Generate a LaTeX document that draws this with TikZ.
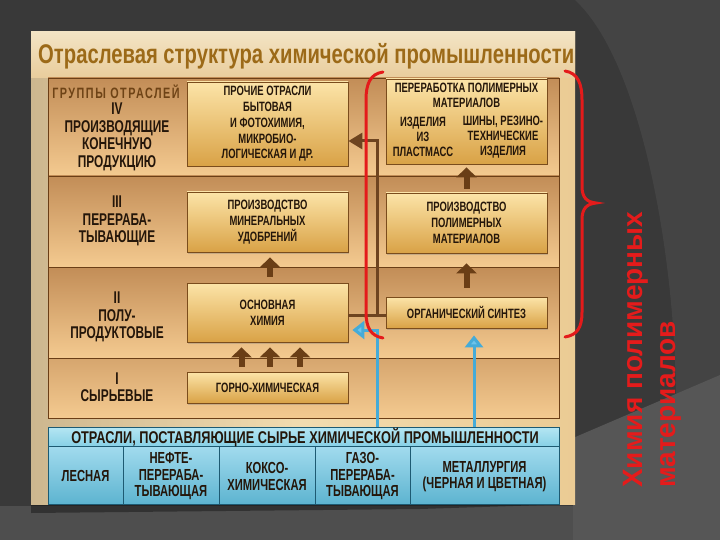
\documentclass[tikz,border=0pt]{standalone}
\usepackage{fontspec}
\setmainfont{Liberation Sans}
\newfontfamily\cond[FakeStretch=0.70]{Liberation Sans}
\newfontfamily\condw[FakeStretch=0.75]{Liberation Sans}
\newfontfamily\hdrfont[FakeStretch=0.72,LetterSpace=10]{Liberation Sans}
\newfontfamily\ttlfont[FakeStretch=0.75]{Liberation Sans}
\usetikzlibrary{arrows.meta,shadows}
\definecolor{bgdark}{HTML}{393939}
\definecolor{bgmid}{HTML}{444444}
\definecolor{bglight}{HTML}{565656}
\definecolor{bgband}{HTML}{4E4E4E}
\definecolor{panL}{HTML}{CDB78F}
\definecolor{panM}{HTML}{F2DCB0}
\definecolor{panR}{HTML}{EBCB94}
\definecolor{ttltop}{HTML}{F3E4C4}
\definecolor{ttlbot}{HTML}{E9CD9C}
\definecolor{ttlcol}{HTML}{9C6A18}
\definecolor{rowtop}{HTML}{C28D57}
\definecolor{rowbot}{HTML}{F4CA90}
\definecolor{frame}{HTML}{6B3E16}
\definecolor{boxtop}{HTML}{FCE4A8}
\definecolor{boxbot}{HTML}{D9A246}
\definecolor{boxedge}{HTML}{7A4C1C}
\definecolor{txtdark}{HTML}{24160A}
\definecolor{hdrcol}{HTML}{6E4316}
\definecolor{barcol}{HTML}{6A3E16}
\definecolor{brcol}{HTML}{6E4420}
\definecolor{bline}{HTML}{45ABD8}
\definecolor{bhead}{HTML}{6CC3EA}
\definecolor{bhtop}{HTML}{B5E6F3}
\definecolor{bhbot}{HTML}{88D1E6}
\definecolor{bodytop}{HTML}{A2DBEE}
\definecolor{bodybot}{HTML}{5DB4D0}
\definecolor{bedge}{HTML}{1D5A72}
\definecolor{redc}{HTML}{E41B1B}
\begin{document}
\begin{tikzpicture}[x=1pt,y=-1pt,
  box/.style={draw=boxedge, line width=0.8pt, top color=boxtop, bottom color=boxbot,
    minimum width=161pt, inner sep=0pt, align=center, text=txtdark,
    font=\cond\bfseries\fontsize{13.5}{15.7}\selectfont,
    drop shadow={shadow xshift=1.2pt,shadow yshift=-1.5pt,opacity=0.35}},
  btxt/.style={align=center, text=txtdark, inner sep=0pt,
    font=\cond\bfseries\fontsize{13.5}{15.2}\selectfont},
  lab/.style={align=center, text=txtdark, inner sep=0pt,
    font=\cond\bfseries\fontsize{17}{17.5}\selectfont},
  ctxt/.style={align=center, text=txtdark, inner sep=0pt,
    font=\cond\bfseries\fontsize{16}{16.5}\selectfont},
  barr/.style={line width=6pt, draw=barcol, -{Triangle[length=10pt,width=20pt]}},
  brline/.style={line width=3pt, draw=brcol},
  blueline/.style={line width=3pt, draw=bline, -{Triangle[length=12pt,width=18pt,fill=bhead]}},
  redline/.style={line width=3pt, draw=redc, line cap=round},
  redtxt/.style={text=redc, inner sep=0pt, font=\bfseries\fontsize{28}{30}\selectfont}
]
\useasboundingbox (0,0) rectangle (720,540);
% slide background
\fill[bgdark] (0,0) rectangle (720,540);
\fill[bgmid] (575,0) .. controls (640,60) and (675,250) .. (676,400) -- (720,380) -- (720,0) -- cycle;
\fill[bgband] (0,506) rectangle (720,540);
\fill[bglight] (573,438) -- (720,375) -- (720,540) -- (573,540) -- cycle;
\fill[black,opacity=0.35] (31,504) -- (575,504) -- (420,509) -- (31,513) -- cycle;
% panel
\shade[left color=panL, right color=panR, middle color=panM] (31,32) rectangle (575,504);
\shade[top color=ttltop, bottom color=ttlbot] (31,32) rectangle (575,78);
\node[anchor=base west, inner sep=0pt, text=ttlcol, font=\ttlfont\bfseries\fontsize{27}{30}\selectfont] (title) at (38,64) {Отраслевая структура химической промышленности};
% rows
\shade[top color=rowtop, bottom color=rowbot] (48,78) rectangle (559,176);
\shade[top color=rowtop, bottom color=rowbot] (48,176) rectangle (559,267);
\shade[top color=rowtop, bottom color=rowbot] (48,267) rectangle (559,358);
\shade[top color=rowtop!60!rowbot, bottom color=rowbot] (48,358) rectangle (559,418);
\draw[frame, line width=0.8pt] (48,78) rectangle (559,418);
\draw[frame, line width=0.8pt] (48,176) -- (559,176) (48,267) -- (559,267) (48,358) -- (559,358);
% left labels
\node[inner sep=0pt, text=hdrcol, font=\hdrfont\bfseries\fontsize{15}{16}\selectfont] (grp) at (116,92) {ГРУППЫ ОТРАСЛЕЙ};
\node[lab] (g4) at (117,137) {IV\\ПРОИЗВОДЯЩИЕ\\КОНЕЧНУЮ\\ПРОДУКЦИЮ};
\node[lab] (g3) at (117,221) {III\\ПЕРЕРАБА-\\ТЫВАЮЩИЕ};
\node[lab] (g2) at (117,317) {II\\ПОЛУ-\\ПРОДУКТОВЫЕ};
\node[lab] (g1) at (117,387) {I\\СЫРЬЕВЫЕ};
% boxes, middle column
\node[box, minimum height=84pt] (prochie) at (267.5,124) {ПРОЧИЕ ОТРАСЛИ\\БЫТОВАЯ\\И ФОТОХИМИЯ,\\МИКРОБИО-\\ЛОГИЧЕСКАЯ И ДР.};
\node[box, minimum height=60pt] (udob) at (267.5,222) {ПРОИЗВОДСТВО\\МИНЕРАЛЬНЫХ\\УДОБРЕНИЙ};
\node[box, minimum height=59pt] (osn) at (267.5,312.5) {ОСНОВНАЯ\\ХИМИЯ};
\node[box, minimum height=31pt] (gorno) at (267.5,387.5) {ГОРНО-ХИМИЧЕСКАЯ};
% boxes, right column
\node[box, minimum height=85pt] (perer) at (466.5,121.5) {};
\node[btxt] (perert) at (466.5,95.5) {ПЕРЕРАБОТКА ПОЛИМЕРНЫХ\\МАТЕРИАЛОВ};
\node[btxt] (izd) at (423,137) {ИЗДЕЛИЯ\\ИЗ\\ПЛАСТМАСС};
\node[btxt] (shiny) at (503,137) {ШИНЫ, РЕЗИНО-\\ТЕХНИЧЕСКИЕ\\ИЗДЕЛИЯ};
\node[box, minimum height=60pt] (poly) at (466.5,223) {ПРОИЗВОДСТВО\\ПОЛИМЕРНЫХ\\МАТЕРИАЛОВ};
\node[box, minimum height=31pt] (org) at (466.5,312.5) {ОРГАНИЧЕСКИЙ СИНТЕЗ};
% block arrows
\draw[barr, shorten <=6pt, shorten >=5pt] ([xshift=2.5pt]osn.north) -- ([xshift=2.5pt]udob.south);
\draw[barr, shorten <=5pt, shorten >=5pt] ([xshift=-26pt]gorno.north) -- ([xshift=-26pt]osn.south);
\draw[barr, shorten <=5pt, shorten >=5pt] ([xshift=2.5pt]gorno.north) -- ([xshift=2.5pt]osn.south);
\draw[barr, shorten <=5pt, shorten >=5pt] ([xshift=32.5pt]gorno.north) -- ([xshift=32.5pt]osn.south);
\draw[barr, shorten <=9pt, shorten >=10pt] (org.north) -- (poly.south);
\draw[barr, shorten <=4pt, shorten >=3pt] (poly.north) -- (perer.south);
% blue table
\shade[top color=bhtop, bottom color=bhbot] (48,427) rectangle (559,446);
\shade[top color=bodytop, bottom color=bodybot] (48,446) rectangle (559,504);
\draw[bedge, line width=0.8pt] (48,427) rectangle (559,504);
\draw[bedge, line width=0.8pt] (48,446) -- (559,446);
\draw[bedge, line width=0.6pt] (123,446) -- (123,504) (219,446) -- (219,504) (315,446) -- (315,504) (410,446) -- (410,504);
\node[inner sep=0pt, text=txtdark, font=\condw\bfseries\fontsize{17}{18}\selectfont] (supp) at (305,437) {ОТРАСЛИ, ПОСТАВЛЯЮЩИЕ СЫРЬЕ ХИМИЧЕСКОЙ ПРОМЫШЛЕННОСТИ};
\node[ctxt] (les) at (85.5,476) {ЛЕСНАЯ};
\node[ctxt] (neft) at (171,476.5) {НЕФТЕ-\\ПЕРЕРАБА-\\ТЫВАЮЩАЯ};
\node[ctxt] (koks) at (267,476.5) {КОКСО-\\ХИМИЧЕСКАЯ};
\node[ctxt] (gaz) at (362.5,476.5) {ГАЗО-\\ПЕРЕРАБА-\\ТЫВАЮЩАЯ};
\node[ctxt] (met) at (484.5,476.5) {МЕТАЛЛУРГИЯ\\(ЧЕРНАЯ И ЦВЕТНАЯ)};
% brown connectors
\coordinate (j1) at (377,315);
\coordinate (j2) at (377,141);
\draw[brline] (osn.east |- j1) -- (org.west |- j1);
\draw[brline, -{Triangle[length=14pt,width=16pt]}] (j1) -- (j2) -- (prochie.east |- j2);
% blue arrows
\coordinate (bt1) at (377,427);
\coordinate (bt2) at (474,427);
\coordinate (ya) at (0,330);
\draw[blueline, shorten >=4pt] (bt1) |- (osn.east |- ya);
\draw[blueline, shorten >=7pt] (bt2) -- (org.south -| bt2);
% red brackets
\draw[redline] (383,72) .. controls (370,74) and (366,84) .. (366,100) -- (366,312) .. controls (366,328) and (371,336) .. (383,338);
\draw[redline] (565,71) .. controls (578,73) and (582,84) .. (582,100) -- (582,186) .. controls (582,198) and (587,202) .. (596,203) .. controls (587,204) and (582,208) .. (582,220) -- (582,312) .. controls (582,328) and (577,335) .. (565,337);
% red caption
\node[redtxt, rotate=90, anchor=base west] (cap1) at (642,488) {Химия полимерных};
\node[redtxt, rotate=90, anchor=base west] (cap2) at (675,488) {материалов};
\end{tikzpicture}
\end{document}
